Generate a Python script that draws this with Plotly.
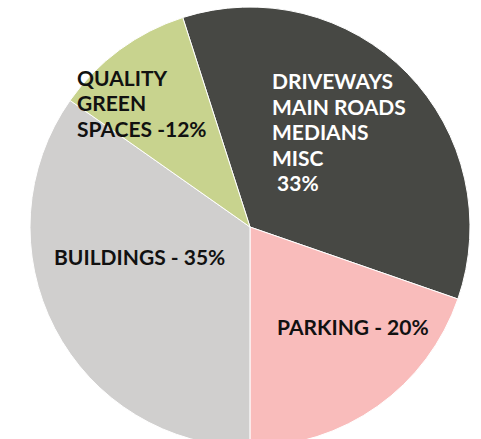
import plotly.graph_objects as go

# Slice data
categories = ["Driveways / Main Roads / Medians / Misc", "Parking", "Buildings", "Quality Green Spaces"]
values = [35.25, 19.7, 34.75, 10.3]
colors = ["#474844", "#F9BCBB", "#D0CFCE", "#C8D38E"]
# label lines per slice
label_lines = [
    ["DRIVEWAYS", "MAIN ROADS", "MEDIANS", "MISC", " 33%"],
    ["PARKING - 20%"],
    ["BUILDINGS - 35%"],
    ["QUALITY", "GREEN", "SPACES -12%"],
]
label_colors = ["#FFFFFF", "#111111", "#111111", "#111111"]

W, H = 481, 455
cx, cy, r = 250, 227, 220

fig = go.Figure(go.Pie(
    labels=categories,
    values=values,
    sort=False,
    direction="clockwise",
    rotation=-17.8,
    marker=dict(colors=colors, line=dict(color="#FFFFFF", width=1)),
    textinfo="none",
    hoverinfo="label+percent",
    showlegend=False,
    domain=dict(x=[(cx - r) / W, (cx + r) / W], y=[(H - cy - r) / H, (H - cy + r) / H]),
))

# label layout: left pixel, first-line centre pixel, line step
label_px = [(270, 80.5, 25.6), (275, 326.5, 0), (52, 256.5, 0), (75, 77, 25.7)]
for lines, col, (px, py, step) in zip(label_lines, label_colors, label_px):
    for i, ln in enumerate(lines):
        fig.add_annotation(
            text=ln, x=px / W, y=1 - (py + i * step) / H, xref="paper", yref="paper",
            xanchor="left", yanchor="middle", align="left", showarrow=False,
            font=dict(family="Lato", size=21, color=col, weight="bold"),
        )

fig.update_layout(
    width=W, height=H,
    margin=dict(l=0, r=0, t=0, b=0),
    paper_bgcolor="#FFFFFF",
    plot_bgcolor="#FFFFFF",
)

fig.write_html("out.html")
